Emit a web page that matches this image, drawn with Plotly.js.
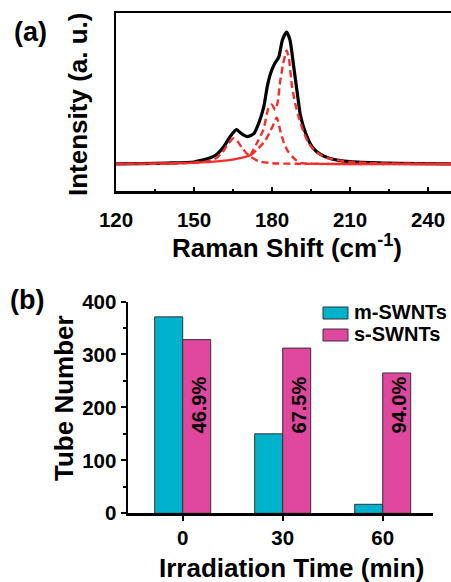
<!DOCTYPE html>
<html>
<head>
<meta charset="utf-8">
<script src="https://cdn.plot.ly/plotly-3.0.1.min.js"></script>
<style>
html,body{margin:0;padding:0;overflow:hidden;background:#fff;}
#chart{width:453px;height:582px;}
</style>
</head>
<body>
<div id="chart"></div>
<script>
// ---- Panel (a): Raman spectrum (intensity normalised to peak) ----
const ramanX = [120,130,140,150,152.4,156,158.6,161.4,164,166.3,167.9,170.5,173,174.9,176.8,178.2,179.5,181,182.6,184,185.6,186.9,188.2,189.7,191,193,195.6,198.8,202.6,210,223,235,250];
const ramanY = [0,0.003,0.007,0.015,0.025,0.045,0.07,0.13,0.21,0.26,0.235,0.207,0.23,0.31,0.43,0.59,0.69,0.76,0.81,0.94,1.0,0.94,0.76,0.54,0.36,0.23,0.125,0.07,0.04,0.017,0.006,0.002,0];

const fitTailX = [120,135,150,160,165,169,171.7];
const fitTailY = [0,0.004,0.01,0.022,0.033,0.05,0.065];

const fit1X = [120,140,150,155,158.6,161,163,165.3,167,168.5,170,171.7,175,180,190,250];
const fit1Y = [0,0.002,0.008,0.02,0.045,0.09,0.15,0.195,0.165,0.12,0.085,0.055,0.02,0.006,0.001,0];

const fit2X = [171.7,174.1,177.5,180.1,181.8,183.2,184.6,186,187.8,189.5,191,195,205,250];
const fit2Y = [0.065,0.105,0.18,0.28,0.35,0.25,0.157,0.1,0.055,0.025,0.008,0.002,0,0];

const fit3X = [171.7,174.1,176.7,178.6,179.9,181.2,182.1,183.1,184.3,185.6,186.5,187.6,189,190.5,192,194,196,199,202.6,210,220,235,250];
const fit3Y = [0.065,0.155,0.26,0.42,0.45,0.41,0.46,0.62,0.76,0.86,0.8,0.6,0.45,0.34,0.25,0.16,0.11,0.065,0.038,0.015,0.005,0.001,0];

const ramanTicks = [120,150,180,210,240];

// ---- Panel (b): tube numbers ----
const times = ['0','30','60'];
const seriesNames = ['m-SWNTs','s-SWNTs'];
const mSWNTs = [371,150,17];
const sSWNTs = [328,312,265];
const pctLabels = ['46.9%','67.5%','94.0%'];
const pctLabelY = 205;
const tubeTicks = [0,100,200,300,400];

const W = 453, H = 582;
const px = x => x / W;
const py = y => 1 - y / H;

const FONT = 'Liberation Sans, Arial, Helvetica, sans-serif';
const RED = '#f52d2d';
const CYAN = '#00b2cc';
const MAGENTA = '#e0479e';

const dashed = {color: RED, width: 2.4, dash: '7px,4px', shape: 'spline', smoothing: 0.6};

const traces = [
  {x: ramanX, y: ramanY, type: 'scatter', mode: 'lines', xaxis: 'x', yaxis: 'y',
   line: {color: '#000', width: 3.2, shape: 'spline', smoothing: 0.6}, showlegend: false, hoverinfo: 'skip'},
  {x: fitTailX, y: fitTailY, type: 'scatter', mode: 'lines', xaxis: 'x', yaxis: 'y',
   line: {color: RED, width: 2.2, shape: 'spline', smoothing: 0.6}, showlegend: false},
  {x: fit1X, y: fit1Y, type: 'scatter', mode: 'lines', xaxis: 'x', yaxis: 'y', line: dashed, showlegend: false},
  {x: fit2X, y: fit2Y, type: 'scatter', mode: 'lines', xaxis: 'x', yaxis: 'y', line: dashed, showlegend: false},
  {x: fit3X, y: fit3Y, type: 'scatter', mode: 'lines', xaxis: 'x', yaxis: 'y', line: dashed, showlegend: false},
  {x: times, y: mSWNTs, name: seriesNames[0], type: 'bar', xaxis: 'x2', yaxis: 'y2',
   marker: {color: CYAN, line: {color: '#333', width: 1}}, showlegend: false},
  {x: times, y: sSWNTs, name: seriesNames[1], type: 'bar', xaxis: 'x2', yaxis: 'y2',
   marker: {color: MAGENTA, line: {color: '#333', width: 1}}, showlegend: false}
];

const boldTick = {family: FONT, size: 20.5, color: '#000', weight: 'bold'};

const annotations = [];
function addText(text, x, y, size, angle) {
  annotations.push({text: text, xref: 'paper', yref: 'paper', x: px(x), y: py(y),
    xanchor: 'center', yanchor: 'middle', showarrow: false, textangle: angle || 0,
    font: {family: FONT, size: size, color: '#000', weight: 'bold'}});
}
addText('(a)', 30, 32, 27);
addText('(b)', 27, 300, 27);
addText('Intensity (a. u.)', 78, 105, 26, -90);
addText('Raman Shift (cm<sup>-1</sup>)', 287, 246, 26);
addText('Tube Number', 64, 398, 26, -90);
addText('Irradiation Time (min)', 291.5, 567.5, 26);

pctLabels.forEach((t, i) => {
  annotations.push({text: t, xref: 'x2', yref: 'y2', x: i, y: pctLabelY, xshift: 16,
    showarrow: false, textangle: -90, xanchor: 'center', yanchor: 'middle',
    font: {family: FONT, size: 20, color: '#000', weight: 'bold'}});
});

// manual legend (swatch + label) built from series names / colours
const shapes = [];
const legendColors = [CYAN, MAGENTA];
seriesNames.forEach((n, i) => {
  const cy = 313 + i * 22;
  shapes.push({type: 'rect', xref: 'paper', yref: 'paper', x0: px(323), x1: px(348), y0: py(cy - 6), y1: py(cy + 6),
    fillcolor: legendColors[i], line: {color: '#333', width: 1}});
  annotations.push({text: n, xref: 'paper', yref: 'paper', x: px(352), y: py(cy - 1), xanchor: 'left', yanchor: 'middle',
    showarrow: false, font: {family: FONT, size: 20, color: '#000', weight: 'bold'}});
});

const layout = {
  width: W, height: H,
  margin: {l: 0, r: 0, t: 0, b: 0},
  paper_bgcolor: '#fff', plot_bgcolor: '#fff',
  showlegend: false,
  barmode: 'group', bargap: 0.44, bargroupgap: 0,
  xaxis: {domain: [px(116), 1], range: [120, 249.6], anchor: 'y',
    tickmode: 'array', tickvals: ramanTicks, ticks: 'inside', ticklen: 4, tickwidth: 2, tickcolor: '#000',
    minor: {tickmode: 'linear', tick0: 135, dtick: 30, ticks: 'inside', ticklen: 2, tickwidth: 1.5, tickcolor: '#000'},
    showline: true, linecolor: '#000', linewidth: 2.5, mirror: true,
    showgrid: false, zeroline: false, tickfont: boldTick, ticklabelstandoff: 9, fixedrange: true},
  yaxis: {domain: [py(191), py(13)], range: [-0.205, 1.144], anchor: 'x',
    showticklabels: false, ticks: '', showline: true, linecolor: '#000', linewidth: 2.5, mirror: true,
    showgrid: false, zeroline: false, fixedrange: true},
  xaxis2: {domain: [px(128), px(433)], anchor: 'y2', type: 'category', range: [-0.547, 2.503],
    ticks: 'outside', ticklen: 5, tickwidth: 2, tickcolor: '#000',
    showline: true, linecolor: '#000', linewidth: 2.5, showgrid: false, zeroline: false,
    tickfont: boldTick, ticklabelstandoff: 0, fixedrange: true},
  yaxis2: {domain: [py(513.3), py(301.5)], anchor: 'x2', range: [0, 400],
    tickmode: 'array', tickvals: tubeTicks, ticks: 'outside', ticklen: 5, tickwidth: 2, tickcolor: '#000',
    minor: {tickmode: 'linear', tick0: 50, dtick: 100, ticks: 'outside', ticklen: 3, tickwidth: 1.5, tickcolor: '#000'},
    showline: true, linecolor: '#000', linewidth: 2.5, showgrid: false, zeroline: false,
    tickfont: boldTick, ticklabelstandoff: 0, fixedrange: true},
  annotations: annotations,
  shapes: shapes
};

Plotly.newPlot('chart', traces, layout, {staticPlot: true, displayModeBar: false});
</script>
</body>
</html>
